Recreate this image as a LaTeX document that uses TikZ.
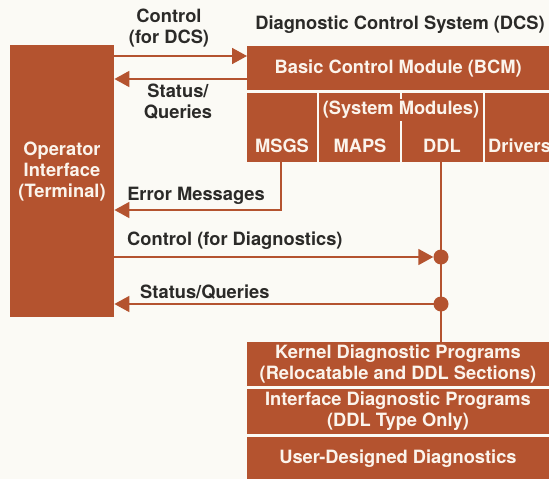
\documentclass[tikz,border=0pt]{standalone}
\usepackage{fontspec}
\setmainfont{TeX Gyre Heros}
\usetikzlibrary{arrows.meta}
\definecolor{rust}{HTML}{B4532F}
\definecolor{ink}{HTML}{2B2A28}
\definecolor{paper}{HTML}{FBFAF5}
\definecolor{cream}{HTML}{FBF4EC}
\tikzset{
  box/.style={draw=none, fill=rust, inner sep=0pt, anchor=north west},
  wt/.style={text=cream, font=\fontsize{18.3}{21}\selectfont\bfseries, align=center, inner sep=0pt},
  lbl/.style={text=ink, font=\fontsize{18.3}{21}\selectfont\bfseries, align=center, inner sep=0pt},
  wire/.style={draw=rust, line width=1.8pt},
  arr/.style={wire, -{Triangle[length=15pt, width=16pt]}},
  dot/.style={circle, fill=rust, minimum size=15pt, inner sep=0pt},
}
\begin{document}
\begin{tikzpicture}[x=1pt, y=-1pt]
\useasboundingbox (0,0) rectangle (549,479);
\fill[paper] (0,0) rectangle (549,479);
\clip (0,0) rectangle (549,479);
% operator
\node[box, minimum width=104pt, minimum height=272pt] (op) at (10,45) {};
\node[wt] (opt) at (62,172) {Operator\\Interface\\(Terminal)};
% DCS
\node[lbl] (title) at (400,25) {Diagnostic Control System (DCS)};
\node[box, minimum width=302pt, minimum height=44pt] (bcm) at (247,46) {};
\node[wt] (bcmt) at (bcm.center) {Basic Control Module (BCM)};
\node[box, minimum width=70pt, minimum height=69pt] (msgs) at (247,93) {};
\node[box, minimum width=81pt, minimum height=69pt] (maps) at (319,93) {};
\node[box, minimum width=81pt, minimum height=69pt] (ddl) at (402,93) {};
\node[box, minimum width=70pt, minimum height=69pt] (drv) at (485,93) {};
\node[wt, fill=rust, inner ysep=2pt, inner xsep=1pt] (sysm) at (401,110) {(System Modules)};
\node[wt] (msgst) at (282,146) {MSGS};
\node[wt] (mapst) at (360,146) {MAPS};
\node[wt] (ddlt) at (442,146) {DDL};
\node[wt, anchor=west] (drvt) at (488,146) {Drivers};
% diagnostic programs
\node[box, minimum width=302pt, minimum height=44pt] (k1) at (247,342) {};
\node[box, minimum width=302pt, minimum height=45pt] (k2) at (247,389) {};
\node[box, minimum width=302pt, minimum height=45pt] (k3) at (247,437) {};
\node[wt] (k1t) at (398,364) {Kernel Diagnostic Programs\\(Relocatable and DDL Sections)};
\node[wt] (k2t) at (398,411) {Interface Diagnostic Programs\\(DDL Type Only)};
\node[wt] (k3t) at (398,459) {User-Designed Diagnostics};
% labels
\node[lbl] (c1) at (169,28) {Control\\(for DCS)};
\node[lbl] (s1) at (178,102) {Status/\\Queries};
\node[lbl] (em) at (196,196) {Error Messages};
\node[lbl, anchor=west] (c2) at (127,241) {Control (for Diagnostics)};
\node[lbl, anchor=west] (s2) at (140,292) {Status/Queries};
% connectors
\draw[arr] (op.east |- 0,56) -- (bcm.west |- 0,56);
\draw[arr] (bcm.west |- 0,79) -- (op.east |- 0,79);
\draw[arr] (281,162) -- (281,210) -- (op.east |- 0,210);
\draw[wire] (441,162) -- (441,342);
\node[dot] (d1) at (441,257) {};
\node[dot] (d2) at (441,304) {};
\draw[arr] (op.east |- d1) -- (d1.west);
\draw[arr] (d2.center) -- (op.east |- d2);
\end{tikzpicture}
\end{document}
